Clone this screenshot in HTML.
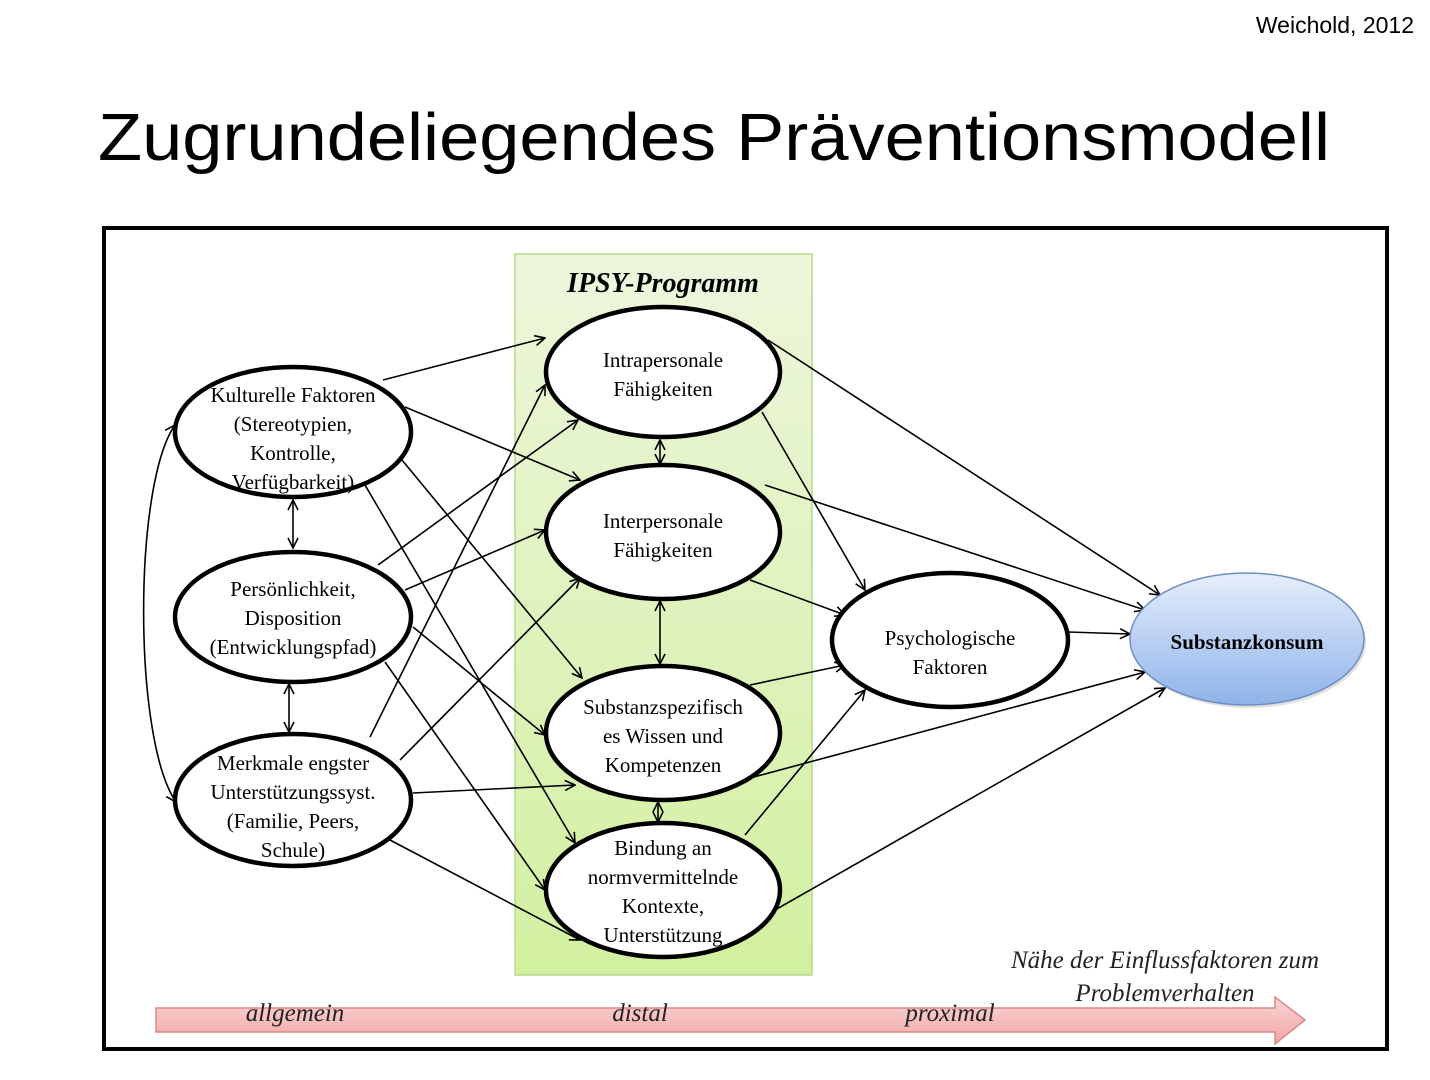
<!DOCTYPE html>
<html><head><meta charset="utf-8"><style>
html,body{margin:0;padding:0;background:#fff;width:1430px;height:1080px;overflow:hidden}
svg{display:block}
.t{font-family:"Liberation Serif",serif;font-size:21px;fill:#000;text-anchor:middle}
.l{stroke:#000;stroke-width:1.6;fill:none;marker-end:url(#a)}
.b{stroke:#000;stroke-width:1.6;fill:none;marker-end:url(#a);marker-start:url(#s)}
.e{fill:#fff;stroke:#000;stroke-width:4.5}
.i{font-family:"Liberation Serif",serif;font-style:italic;font-size:25px;fill:#222;text-anchor:middle}
</style></head><body>
<svg width="1430" height="1080" viewBox="0 0 1430 1080" xmlns="http://www.w3.org/2000/svg">
<defs>
<marker id="a" viewBox="0 0 12 12" refX="11" refY="6" markerWidth="12" markerHeight="12" markerUnits="userSpaceOnUse" orient="auto"><polyline points="1,1 11,6 1,11" fill="none" stroke="#000" stroke-width="1.6"/></marker>
<marker id="s" viewBox="0 0 12 12" refX="1" refY="6" markerWidth="12" markerHeight="12" markerUnits="userSpaceOnUse" orient="auto"><polyline points="11,1 1,6 11,11" fill="none" stroke="#000" stroke-width="1.6"/></marker>
<linearGradient id="g" x1="0" y1="0" x2="0" y2="1"><stop offset="0" stop-color="#e6eefb"/><stop offset="1" stop-color="#8fb3ea"/></linearGradient>
<linearGradient id="gg" x1="0" y1="0" x2="0" y2="1"><stop offset="0" stop-color="#edf6dc"/><stop offset="1" stop-color="#d2f0a0"/></linearGradient>
<linearGradient id="pk" x1="0" y1="0" x2="0" y2="1"><stop offset="0" stop-color="#f9d4d4"/><stop offset="1" stop-color="#f3a6a6"/></linearGradient>
</defs>
<text x="1414" y="33" font-family="Liberation Sans,sans-serif" font-size="23" text-anchor="end">Weichold, 2012</text>
<text x="98" y="160" font-family="Liberation Sans,sans-serif" font-size="67" textLength="1232" lengthAdjust="spacingAndGlyphs">Zugrundeliegendes Präventionsmodell</text>
<rect x="104" y="228" width="1283" height="821" fill="#fff" stroke="#000" stroke-width="4"/>
<rect x="515" y="254" width="297" height="721" fill="url(#gg)" stroke="#b9d98a" stroke-width="1.5"/>
<text x="663" y="292" font-family="Liberation Serif,serif" font-style="italic" font-weight="bold" font-size="28" text-anchor="middle">IPSY-Programm</text>
<!-- bottom arrow -->
<path d="M156,1008 H1275 V997 L1305,1020 L1275,1044 V1032 H156 Z" fill="url(#pk)" stroke="#d88" stroke-width="1.5"/>
<text class="i" x="295" y="1021">allgemein</text>
<text class="i" x="640" y="1021">distal</text>
<text class="i" x="950" y="1021">proximal</text>
<text class="i" x="1165" y="968">Nähe der Einflussfaktoren zum</text>
<text class="i" x="1165" y="1001">Problemverhalten</text>
<!-- connectors -->
<path class="b" d="M175,425 C133,485 133,740 176,802"/>
<line class="b" x1="293" y1="500" x2="293" y2="548"/>
<line class="b" x1="289" y1="684" x2="289" y2="732"/>
<line class="b" x1="660" y1="440" x2="660" y2="464"/>
<line class="b" x1="660" y1="601" x2="660" y2="664"/>
<line class="b" x1="658" y1="802" x2="658" y2="822"/>
<line class="l" x1="383" y1="380" x2="545" y2="338"/>
<line class="l" x1="405" y1="407" x2="580" y2="480"/>
<line class="l" x1="402" y1="460" x2="582" y2="678"/>
<line class="l" x1="365" y1="485" x2="575" y2="843"/>
<line class="l" x1="378" y1="565" x2="578" y2="420"/>
<line class="l" x1="405" y1="590" x2="545" y2="530"/>
<line class="l" x1="413" y1="627" x2="545" y2="735"/>
<line class="l" x1="385" y1="662" x2="545" y2="890"/>
<line class="l" x1="370" y1="737" x2="545" y2="385"/>
<line class="l" x1="400" y1="760" x2="580" y2="578"/>
<line class="l" x1="413" y1="793" x2="575" y2="785"/>
<line class="l" x1="390" y1="840" x2="580" y2="940"/>
<line class="l" x1="768" y1="340" x2="1160" y2="595"/>
<line class="l" x1="762" y1="412" x2="865" y2="590"/>
<line class="l" x1="765" y1="485" x2="1145" y2="610"/>
<line class="l" x1="750" y1="580" x2="845" y2="615"/>
<line class="l" x1="750" y1="685" x2="845" y2="665"/>
<line class="l" x1="750" y1="778" x2="1145" y2="672"/>
<line class="l" x1="745" y1="835" x2="865" y2="690"/>
<line class="l" x1="775" y1="910" x2="1165" y2="688"/>
<line class="l" x1="1068" y1="632" x2="1130" y2="634"/>
<!-- nodes -->
<ellipse class="e" cx="293" cy="432" rx="118" ry="65"/>
<text class="t" x="293" y="402">Kulturelle Faktoren</text><text class="t" x="293" y="431">(Stereotypien,</text><text class="t" x="293" y="460">Kontrolle,</text><text class="t" x="293" y="489">Verfügbarkeit)</text>
<ellipse class="e" cx="293" cy="617" rx="118" ry="65"/>
<text class="t" x="293" y="596">Persönlichkeit,</text><text class="t" x="293" y="625">Disposition</text><text class="t" x="293" y="654">(Entwicklungspfad)</text>
<ellipse class="e" cx="293" cy="800" rx="118" ry="66"/>
<text class="t" x="293" y="770">Merkmale engster</text><text class="t" x="293" y="799">Unterstützungssyst.</text><text class="t" x="293" y="828">(Familie, Peers,</text><text class="t" x="293" y="857">Schule)</text>
<ellipse class="e" cx="663" cy="372" rx="117" ry="65"/>
<text class="t" x="663" y="367">Intrapersonale</text><text class="t" x="663" y="396">Fähigkeiten</text>
<ellipse class="e" cx="663" cy="532" rx="117" ry="67"/>
<text class="t" x="663" y="528">Interpersonale</text><text class="t" x="663" y="557">Fähigkeiten</text>
<ellipse class="e" cx="663" cy="733" rx="117" ry="67"/>
<text class="t" x="663" y="714">Substanzspezifisch</text><text class="t" x="663" y="743">es Wissen und</text><text class="t" x="663" y="772">Kompetenzen</text>
<ellipse class="e" cx="663" cy="890" rx="117" ry="67"/>
<text class="t" x="663" y="855">Bindung an</text><text class="t" x="663" y="884">normvermittelnde</text><text class="t" x="663" y="913">Kontexte,</text><text class="t" x="663" y="942">Unterstützung</text>
<ellipse class="e" cx="950" cy="640" rx="118" ry="67"/>
<text class="t" x="950" y="645">Psychologische</text><text class="t" x="950" y="674">Faktoren</text>
<ellipse cx="1249" cy="642" rx="117" ry="66" fill="#aaa" opacity="0.35"/>
<ellipse cx="1247" cy="639" rx="117" ry="66" fill="url(#g)" stroke="#6f8fc0" stroke-width="1.5"/>
<text class="t" x="1247" y="649" font-weight="bold" font-size="23">Substanzkonsum</text>
</svg>
</body></html>
